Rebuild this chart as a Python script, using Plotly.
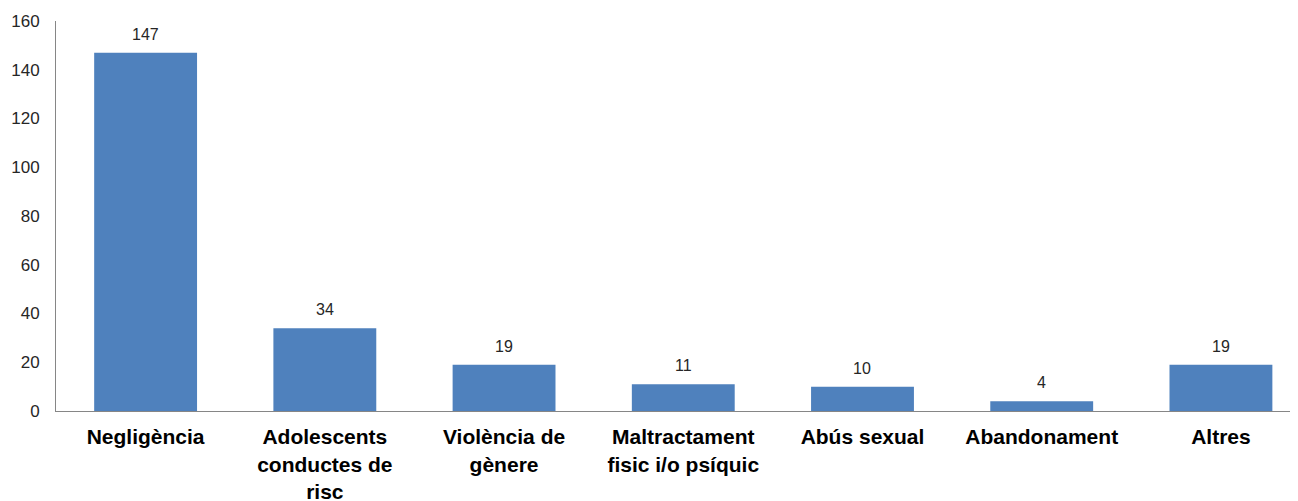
import plotly.graph_objects as go

categories = [
    "Negligència",
    "Adolescents<br>conductes de<br>risc",
    "Violència de<br>gènere",
    "Maltractament<br>fisic i/o psíquic",
    "Abús sexual",
    "Abandonament",
    "Altres",
]
values = [147, 34, 19, 11, 10, 4, 19]
y_ticks = [0, 20, 40, 60, 80, 100, 120, 140, 160]

BAR_COLOR = "#4F81BD"
FONT = "Liberation Sans, Arial, sans-serif"

fig = go.Figure()
fig.add_trace(
    go.Bar(
        x=categories,
        y=values,
        marker=dict(color=BAR_COLOR, line=dict(width=0)),
        showlegend=False,
        hoverinfo="x+y",
    )
)

# value labels above each bar
for c, v in zip(categories, values):
    fig.add_annotation(
        x=c,
        y=v,
        text=str(v),
        showarrow=False,
        yanchor="bottom",
        yshift=8,
        font=dict(family=FONT, size=16, color="#262626"),
    )

# page body has an 8px margin, so the figure is sized to the remaining window
fig.update_layout(
    width=1290,
    height=493,
    margin=dict(l=48, r=0, t=13, b=90),
    plot_bgcolor="white",
    paper_bgcolor="white",
    bargap=0.426,
    font=dict(family=FONT),
)
fig.update_xaxes(
    range=[-0.5, 6.43],
    automargin=False,
    showgrid=False,
    showline=True,
    linecolor="#868686",
    linewidth=1,
    ticks="",
    ticklabelstandoff=7,
    tickfont=dict(family=FONT, size=21, color="#000000", weight="bold"),
)
fig.update_yaxes(
    range=[0, 160],
    automargin=False,
    tickvals=y_ticks,
    showgrid=False,
    zeroline=False,
    showline=True,
    linecolor="#868686",
    linewidth=1,
    ticks="",
    ticklabelstandoff=12,
    tickfont=dict(family=FONT, size=17, color="#262626"),
)

fig.write_html("out.html")
